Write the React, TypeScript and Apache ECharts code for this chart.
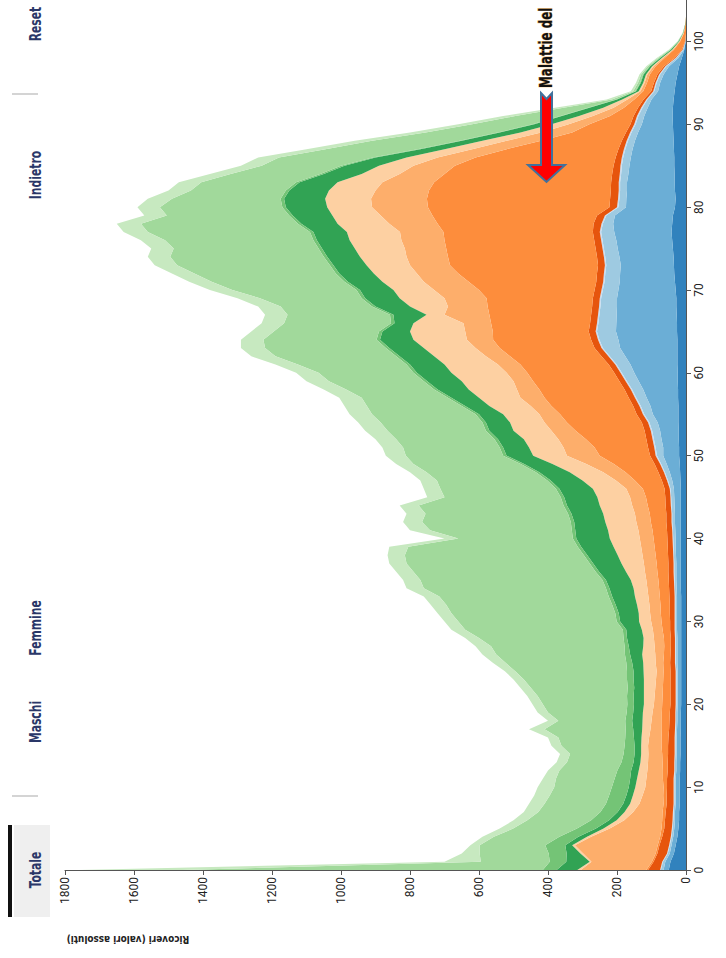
import React, { useEffect, useRef } from "react";
import * as echarts from "echarts";

// Age categories (0..105) on the vertical axis
const ages: string[] = Array.from({ length: 106 }, (_, i) => String(i));

// Stacked layers, ages 0..103
const darkBlue = [
  50, 45, 35, 30, 25, 22, 20, 20, 18, 18, 18,
  18, 17, 17, 16, 16, 16, 15, 15, 15, 14, 14, 14, 14, 14, 14,
  14, 14, 14, 14, 14, 14, 14, 14, 15, 15, 15, 15, 15, 15, 15, 15, 15, 15, 15, 15, 15, 16, 17, 18, 20,
  20, 21, 21, 22, 22, 22, 23, 23, 24, 24, 25, 25, 25, 25, 26, 26, 27, 28, 28, 30, 32, 34, 35, 36, 38, 40, 42,
  40, 38, 32, 30, 32, 33, 33, 34, 34, 35, 36, 37, 38, 39, 38, 36, 33, 30, 25, 20, 12, 5, 1, 0, 0, 0,
];
const mediumBlue = [
  15, 15, 12, 12, 12, 12, 12, 12, 12, 12, 12,
  12, 11, 11, 11, 11, 11, 11, 10, 10, 10, 10, 10, 10, 10, 11,
  11, 11, 11, 12, 12, 12, 12, 12, 12, 13, 13, 13, 14, 15, 15, 16, 17, 17, 18, 19, 20, 24, 30, 38, 46,
  46, 50, 54, 60, 74, 81, 91, 101, 113, 126, 136, 151, 166, 171, 177, 176, 174, 172, 172, 166, 160, 157, 154, 157, 160, 162, 166,
  171, 168, 142, 143, 139, 138, 134, 130, 126, 120, 112, 102, 90, 82, 73, 64, 48, 45, 40, 29, 10, 1, 0, 0, 0, 0,
];
const lightBlue = [
  8, 7, 6, 5, 5, 5, 5, 4, 4, 4, 4,
  4, 4, 4, 4, 4, 4, 4, 4, 4, 4, 4, 4, 4, 4, 5,
  5, 5, 5, 5, 5, 5, 5, 5, 5, 5, 6, 6, 6, 6, 7, 7, 8, 8, 9, 9, 10, 12, 14, 16, 18,
  22, 22, 23, 24, 25, 28, 30, 32, 34, 36, 40, 45, 50, 55, 55, 52, 50, 48, 46, 45, 44, 43, 42, 41, 40, 40, 38,
  30, 25, 22, 20, 20, 20, 21, 22, 22, 21, 20, 19, 18, 17, 15, 12, 11, 10, 10, 8, 6, 3, 1, 0, 0, 0,
];
const paleBlue = [
  2, 2, 2, 2, 2, 2, 2, 2, 2, 2, 2,
  2, 2, 2, 2, 2, 2, 2, 2, 2, 2, 2, 2, 2, 2, 2,
  2, 2, 2, 2, 2, 2, 2, 2, 2, 2, 2, 2, 2, 2, 2, 2, 2, 2, 2, 2, 2, 3, 3, 3, 4,
  4, 4, 4, 4, 4, 4, 4, 4, 4, 4, 4, 4, 4, 4, 4, 4, 4, 4, 4, 4, 4, 4, 4, 4, 4, 4, 4,
  4, 4, 4, 4, 4, 4, 4, 4, 4, 4, 4, 4, 4, 4, 4, 3, 3, 3, 3, 3, 2, 1, 0, 0, 0, 0,
];
const darkOrange = [
  35, 25, 28, 28, 25, 22, 22, 21, 20, 20, 19,
  19, 19, 19, 19, 19, 18, 17, 17, 16, 15, 15, 15, 15, 15, 14,
  13, 12, 12, 13, 13, 14, 14, 15, 15, 15, 15, 15, 15, 15, 15, 15, 15, 15, 15, 15, 15, 15, 16, 16, 16,
  18, 18, 18, 18, 18, 18, 18, 18, 18, 18, 19, 20, 20, 20, 20, 20, 20, 20, 20, 20, 20, 20, 20, 20, 20, 20, 20,
  23, 23, 22, 23, 23, 22, 22, 20, 18, 16, 14, 12, 11, 10, 9, 8, 6, 5, 5, 4, 3, 2, 1, 0, 0, 0,
];
const orange = [
  5, 5, 5, 5, 6, 8, 8, 9, 9, 10, 10,
  12, 14, 15, 17, 19, 20, 21, 22, 23, 24, 23, 22, 21, 20, 20,
  19, 19, 20, 22, 25, 26, 27, 28, 29, 30, 32, 34, 36, 38, 40, 42, 45, 48, 52, 56, 63, 78, 95, 118, 146,
  155, 175, 200, 217, 222, 237, 244, 247, 250, 252, 256, 265, 275, 284, 278, 287, 295, 303, 308, 335, 370, 402, 429, 432, 433, 434, 433,
  452, 477, 526, 531, 527, 513, 486, 460, 406, 324, 234, 156, 119, 68, 41, 27, 23, 20, 22, 24, 29, 23, 14, 6, 2, 0,
];
const lightOrange = [
  190, 175, 210, 240, 200, 150, 110, 85, 70, 60, 53,
  48, 45, 42, 40, 39, 36, 33, 30, 27, 24, 23, 22, 21, 20, 22,
  25, 28, 29, 28, 30, 31, 32, 33, 34, 35, 36, 37, 38, 39, 40, 41, 42, 43, 45, 46, 48, 55, 65, 80, 95,
  90, 80, 70, 65, 60, 60, 70, 65, 57, 60, 65, 70, 70, 76, 80, 80, 130, 115, 122, 130, 130, 120, 116, 120, 120, 125, 126,
  140, 150, 162, 162, 155, 150, 130, 120, 110, 100, 100, 90, 60, 50, 30, 20, 8, 7, 7, 6, 5, 3, 2, 1, 0, 0,
];
const paleOrange = [
  10, 5, 8, 8, 12, 18, 22, 25, 27, 28, 29,
  27, 25, 22, 21, 20, 22, 24, 26, 28, 29, 31, 33, 35, 38, 36,
  38, 33, 30, 32, 35, 33, 36, 39, 40, 45, 55, 65, 72, 80, 87, 88, 90, 92, 94, 95, 97, 97, 97, 98, 98,
  100, 100, 110, 100, 105, 120, 120, 140, 150, 160, 155, 150, 150, 155, 160, 145, 52, 110, 130, 118, 120, 125, 126, 135, 145, 150, 154,
  150, 140, 130, 133, 135, 130, 110, 100, 90, 80, 70, 60, 50, 40, 30, 15, 5, 4, 4, 4, 3, 2, 1, 1, 0, 0,
];
const darkGreen = [
  60, 68, 40, 20, 25, 22, 22, 20, 20, 19, 19,
  20, 22, 20, 19, 19, 22, 26, 30, 28, 29, 30, 28, 30, 29, 32,
  35, 42, 48, 45, 55, 58, 62, 66, 70, 72, 78, 82, 88, 94, 97, 95, 90, 92, 95, 96, 97, 92, 88, 82, 77,
  75, 75, 70, 70, 70, 70, 80, 90, 100, 100, 100, 100, 100, 97, 80, 55, 96, 100, 100, 97, 100, 100, 96, 95, 95, 95, 97,
  105, 115, 120, 119, 115, 110, 110, 100, 90, 70, 60, 60, 50, 50, 40, 15, 8, 7, 7, 6, 5, 4, 2, 1, 1, 0,
];
const green = [
  40, 48, 52, 58, 55, 55, 52, 50, 50, 50, 49,
  45, 40, 35, 32, 29, 25, 22, 20, 19, 19, 19, 19, 19, 19, 17,
  15, 12, 10, 10, 10, 10, 10, 10, 10, 10, 10, 10, 10, 10, 10, 10, 10, 10, 10, 10, 10, 10, 10, 10, 10,
  10, 10, 10, 10, 10, 10, 10, 10, 10, 10, 10, 10, 10, 10, 10, 10, 10, 10, 10, 10, 10, 10, 10, 10, 10, 10, 10,
  10, 10, 10, 10, 10, 10, 10, 10, 8, 8, 6, 6, 5, 4, 4, 3, 2, 2, 2, 2, 2, 1, 1, 0, 0, 0,
];
const lightGreen = [
  1045, 200, 200, 190, 190, 185, 185, 180, 178, 172, 167,
  170, 168, 158, 155, 183, 194, 235, 194, 228, 245, 259, 281, 299, 324, 350,
  373, 387, 419, 457, 459, 475, 481, 491, 528, 528, 528, 531, 519, 491, 332, 411, 431, 413, 420, 337, 335, 320, 317, 311, 282,
  280, 285, 285, 295, 300, 275, 250, 255, 275, 275, 315, 350, 350, 328, 305, 310, 297, 265, 295, 360, 385, 410, 443, 445, 420, 430, 470,
  455, 355, 355, 315, 275, 275, 260, 230, 272, 267, 254, 209, 175, 131, 71, 12, 6, 6, 5, 5, 4, 3, 1, 1, 0, 0,
];
const paleGreen = [
  300, 105, 52, 27, 33, 39, 40, 42, 45, 45, 48,
  38, 33, 30, 29, 29, 30, 45, 30, 30, 30, 30, 30, 30, 30, 37,
  40, 45, 40, 40, 40, 40, 45, 45, 50, 50, 50, 50, 50, 55, 40, 58, 55, 55, 55, 50, 48, 48, 48, 50, 58,
  60, 60, 65, 65, 65, 65, 65, 65, 65, 65, 65, 70, 70, 65, 65, 65, 65, 65, 65, 65, 65, 65, 65, 65, 65, 70, 70,
  70, 65, 65, 70, 65, 65, 60, 60, 60, 55, 50, 45, 40, 35, 25, 15, 7, 6, 5, 4, 4, 2, 1, 0, 0, 0,
];

const layerNames = [
  "Gruppo 1", "Gruppo 2", "Gruppo 3", "Gruppo 4", "Gruppo 5", "Malattie del sistema circolatorio",
  "Gruppo 7", "Gruppo 8", "Gruppo 9", "Gruppo 10", "Gruppo 11", "Gruppo 12",
];
const layerData = [
  darkBlue, mediumBlue, lightBlue, paleBlue, darkOrange, orange,
  lightOrange, paleOrange, darkGreen, green, lightGreen, paleGreen,
];
const layerColors = [
  "#3182bd", "#6baed6", "#9ecae1", "#c6dbef", "#e6550d", "#fd8d3c",
  "#fdae6b", "#fdd0a2", "#31a354", "#74c476", "#a1d99b", "#c7e9c0",
];

const buttonLabels = ["Totale", "Maschi", "Femmine", "Indietro", "Reset"];
const buttonCenters = [870, 722, 628, 175, 24];

const FONT = "'Liberation Sans Narrow', 'DejaVu Sans Condensed', 'DejaVu Sans', sans-serif";
const TICK_FONT = "Roboto, 'Liberation Sans', sans-serif";

export default function App() {
  const ref = useRef<HTMLDivElement>(null);

  useEffect(() => {
    if (!ref.current) return;
    const chart = echarts.init(ref.current, null, { renderer: "svg" });

    const series = layerData.map((data, i) => ({
      type: "line",
      name: layerNames[i],
      data,
      stack: "total",
      symbol: "none",
      showSymbol: false,
      silent: true,
      lineStyle: { width: 0 },
      itemStyle: { color: layerColors[i] },
      areaStyle: { color: layerColors[i], opacity: 1 },
      emphasis: { disabled: true },
    }));

    const graphics: any[] = [
      { type: "rect", z: 100, shape: { x: 14, y: 825, width: 36, height: 92 }, style: { fill: "#efefef" } },
      { type: "rect", z: 100, shape: { x: 8, y: 825, width: 4, height: 92 }, style: { fill: "#111111" } },
      { type: "rect", z: 100, shape: { x: 12, y: 795, width: 26, height: 2 }, style: { fill: "#d4d4d4" } },
      { type: "rect", z: 100, shape: { x: 12, y: 93, width: 26, height: 2 }, style: { fill: "#d4d4d4" } },
      ...buttonLabels.map((t, i) => ({
        type: "text",
        z: 101,
        x: 35,
        y: buttonCenters[i],
        rotation: Math.PI / 2,
        scaleX: 0.8,
        style: {
          text: t,
          fill: "#2a3768",
          font: `bold 15px ${FONT}`,
          align: "center",
          verticalAlign: "middle",
        },
      })),
      {
        type: "text",
        z: 101,
        x: 128,
        y: 940,
        rotation: Math.PI,
        scaleX: 0.9,
        style: {
          text: "Ricoveri (valori assoluti)",
          fill: "#222",
          font: `bold 11px ${FONT}`,
          align: "center",
          verticalAlign: "middle",
        },
      },
      {
        type: "polygon",
        z: 100,
        shape: {
          points: [
            [541, 93], [546.5, 99], [552, 93], [552, 165], [565, 165],
            [546.5, 182], [528, 165], [541, 165],
          ],
        },
        style: { fill: "#ff0000", stroke: "#41719c", lineWidth: 2 },
      },
      {
        type: "text",
        z: 101,
        x: 546,
        y: 88,
        rotation: Math.PI / 2,
        scaleX: 0.78,
        style: {
          text: "Malattie del",
          fill: "#111",
          stroke: "#f2b866",
          lineWidth: 0.8,
          font: `bold 17px ${FONT}`,
          align: "left",
          verticalAlign: "middle",
        },
      },
    ];

    chart.setOption({
      animation: false,
      backgroundColor: "#ffffff",
      grid: { left: 65, right: 40, top: 0, bottom: 88, containLabel: false },
      xAxis: {
        type: "value",
        inverse: true,
        min: 0,
        max: 1800,
        interval: 200,
        position: "bottom",
        axisLine: { show: true, lineStyle: { color: "#555", width: 1 } },
        axisTick: { show: true, length: 5, lineStyle: { color: "#555" } },
        axisLabel: {
          rotate: 90,
          fontSize: 12,
          color: "#222",
          fontFamily: TICK_FONT,
          margin: 7,
          formatter: (v: number) => String(v),
        },
        splitLine: { show: false },
      },
      yAxis: {
        type: "category",
        data: ages,
        boundaryGap: false,
        position: "right",
        axisLine: { show: true, lineStyle: { color: "#555", width: 1 } },
        axisTick: { show: true, length: 5, interval: (i: number) => i % 10 === 0, lineStyle: { color: "#555" } },
        axisLabel: {
          interval: (i: number) => i % 10 === 0,
          rotate: 90,
          fontSize: 12,
          color: "#222",
          fontFamily: TICK_FONT,
          margin: 7,
        },
        splitLine: { show: false },
      },
      series,
      graphic: graphics,
    } as any);

    return () => chart.dispose();
  }, []);

  return (
    <div
      ref={ref}
      style={{ position: "absolute", left: 0, top: 0, width: 726, height: 958, background: "#ffffff" }}
    />
  );
}
